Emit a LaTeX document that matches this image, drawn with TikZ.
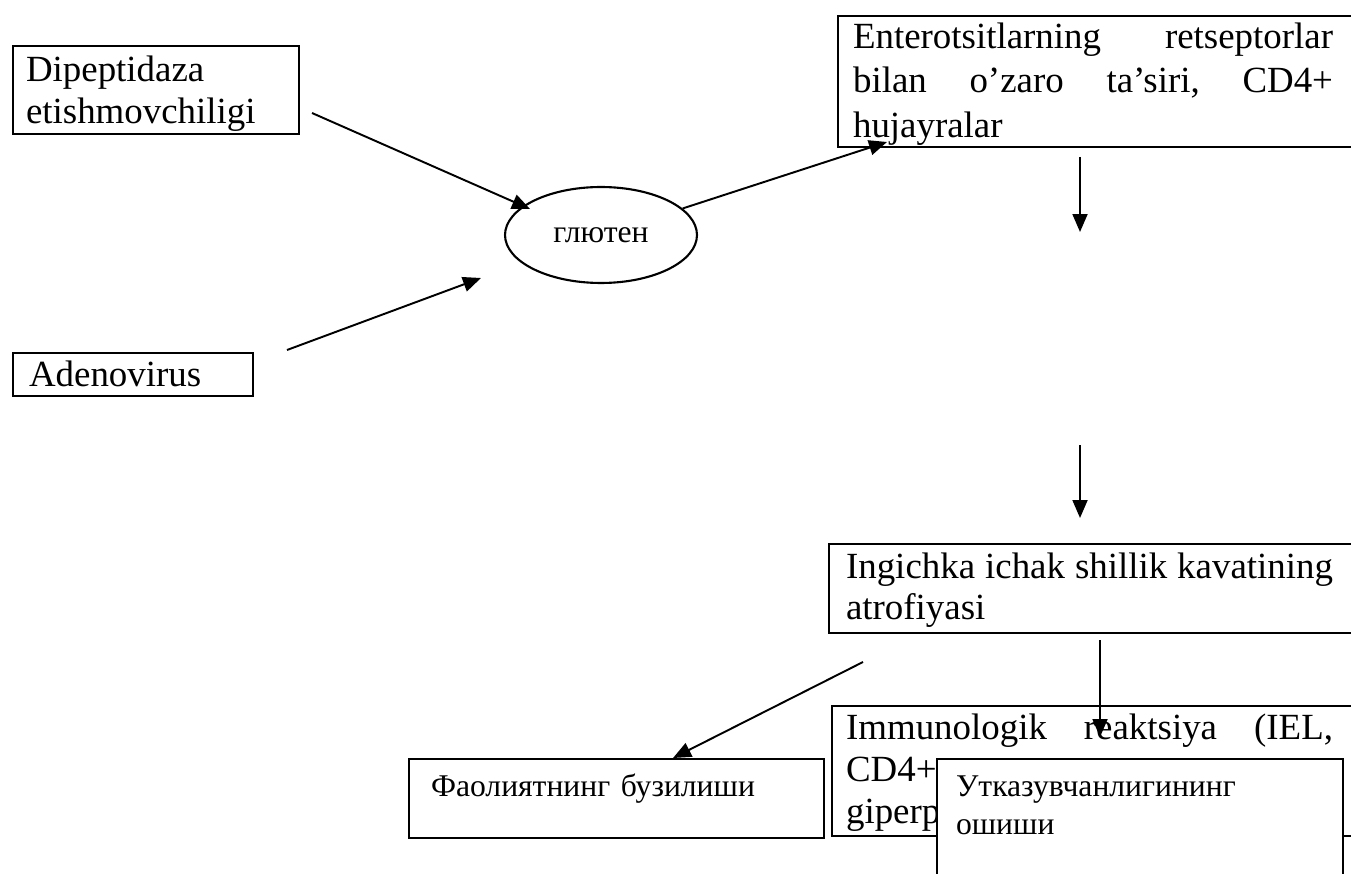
\documentclass[tikz,border=0pt]{standalone}
\usepackage{fontspec}
\setmainfont{Liberation Serif}
\usetikzlibrary{arrows.meta, shapes.geometric}

% one justified line of a given width (words split by \hfill)
\newcommand{\jline}[2][9.74cm]{\makebox[#1][s]{#2}}

\begin{document}
\begin{tikzpicture}[x=0.02cm, y=-0.02cm,
    box/.style={draw, line width=1.2pt, anchor=north west, inner ysep=0pt, align=left},
    latn/.style={font=\fontsize{21}{#1}\selectfont}, latn/.default=24,
    cyr/.style={font=\fontsize{18}{21.6}\selectfont},
    arr/.style={-{Triangle[length=3.6mm, width=3mm]}, line width=1.1pt}]
  \clip (0,0) rectangle (1351,874);

  % causes
  \node[box, latn, inner xsep=0.26cm, text width=5.2cm, text height=0.7cm, text depth=1.06cm] (dipep) at (12,45) {Dipeptidaza\\etishmovchiligi};
  \node[box, latn, inner xsep=0.32cm, text width=4.16cm, text height=0.66cm, text depth=0.2cm] (adeno) at (12,352) {Adenovirus};
  \node[draw, ellipse, line width=1.2pt, minimum width=3.84cm, minimum height=1.92cm, inner sep=0pt, cyr] (gluten) at (601,235) {глютен};

  % right column
  \node[box, latn=25.5, inner xsep=0.3cm, text width=12cm, text height=0.64cm, text depth=1.98cm] (entero) at (837,15) {\jline[9.6cm]{Enterotsitlarning\hfill retseptorlar}\\\jline[9.6cm]{bilan\hfill o’zaro\hfill ta’siri,\hfill CD4+}\\hujayralar};
  \node[box, latn=23.5, inner xsep=0.34cm, text width=12cm, text height=0.68cm, text depth=1.1cm] (atrof) at (828,543) {\jline{Ingichka\hfill ichak\hfill shillik\hfill kavatining}\\atrofiyasi};
  \node[box, latn, inner xsep=0.28cm, text width=12cm, text height=0.66cm, text depth=1.94cm] (immun) at (831,705) {\jline{Immunologik\hfill reaktsiya\hfill (IEL,}\\CD4+\\giperp};

  % outcomes
  \node[box, cyr, inner xsep=0.44cm, text width=7.42cm, text height=0.74cm, text depth=0.84cm] (faol) at (408,758) {Фаолиятнинг бузилиши};
  \node[box, cyr, fill=white, inner xsep=0.38cm, text width=7.36cm, text height=0.74cm, text depth=2.2cm] (utkaz) at (936,758) {Утказувчанлигининг\\ошиши};

  % arrow ends
  \coordinate (dipepout) at (312,113);
  \coordinate (glutenin) at (530,209);
  \coordinate (adenoout) at (287,350);
  \coordinate (glutenlow) at (481,278);
  \coordinate (enteroin) at (887,142);
  \coordinate (downa) at (1080,157);
  \coordinate (downaend) at (1080,232);
  \coordinate (downb) at (1080,445);
  \coordinate (downbend) at (1080,518);
  \coordinate (atrofout) at (863,662);
  \coordinate (faolin) at (673,758);
  \coordinate (atrofdown) at (1100,640);
  \coordinate (immunin) at (1100,737);

  \draw[arr] (dipepout) -- (glutenin);
  \draw[arr] (adenoout) -- (glutenlow);
  \draw[arr] (gluten.18) -- (enteroin);
  \draw[arr] (downa) -- (downaend);
  \draw[arr] (downb) -- (downbend);
  \draw[arr] (atrofout) -- (faolin);
  \draw[arr] (atrofdown) -- (immunin);
\end{tikzpicture}
\end{document}
